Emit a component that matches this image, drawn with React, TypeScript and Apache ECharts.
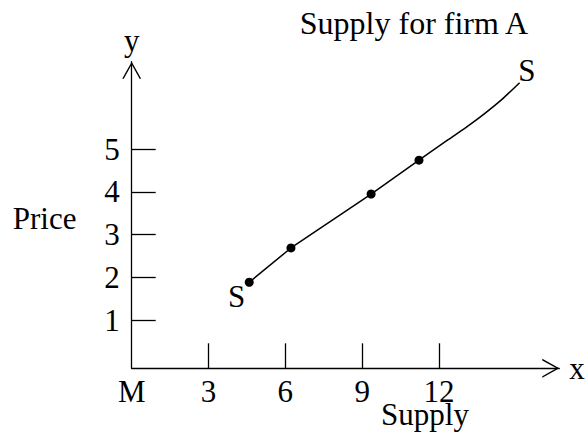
import React, { useEffect, useRef } from "react";
import * as echarts from "echarts";

const chartTitle = "Supply for firm A";
const xAxisName = "x";
const yAxisName = "y";
const priceLabel = "Price";
const supplyLabel = "Supply";
const curveLabel = "S";
const originLabel = "M";

const xTickValues = [3, 6, 9, 12];
const xLabelValues = [0, 3, 6, 9, 12];
const yTickValues = [1, 2, 3, 4, 5];

const dotQuantity = [4.59, 6.22, 9.35, 11.22];
const dotPrice = [1.89, 2.69, 3.95, 4.74];
const curveQuantity = [11.22, 12.36, 13.02, 13.68, 14.46, 15.15];
const curvePrice = [4.74, 5.22, 5.49, 5.78, 6.16, 6.55];

const xMin = 0;
const xMax = 16.7;
const yMin = -0.12;
const yMax = 7.04;

const FONT = "'Liberation Serif', 'Times New Roman', serif";
const FS = 31;
const ARROW = "path://M0,17L9.5,0L19,17L17.4,17L9.5,2.86L1.6,17Z";

export default function App() {
  const ref = useRef<HTMLDivElement>(null);
  useEffect(() => {
    if (!ref.current) return;
    const chart = echarts.init(ref.current, null, { renderer: "svg" });
    const text = { fontFamily: FONT, fontSize: FS, color: "#000" };
    const dots = dotQuantity.map((q, i) => {
      const item: any = { value: [q, dotPrice[i]] };
      if (i === 0) {
        item.label = { show: true, formatter: curveLabel, position: "inside", offset: [-12.6, 14], ...text };
      }
      return item;
    });
    const curve = curveQuantity.map((q, i) => {
      const item: any = { value: [q, curvePrice[i]] };
      if (i === curveQuantity.length - 1) {
        item.label = { show: true, formatter: curveLabel, position: "inside", offset: [7.2, -12.5], ...text };
      }
      return item;
    });
    const option: any = {
      animation: false,
      backgroundColor: "#fff",
      title: {
        text: chartTitle,
        left: 409,
        top: 2,
        textAlign: "center",
        textStyle: { ...text, fontSize: 32, fontWeight: "normal" },
      },
      grid: {
        left: 131.7,
        right: 25.7,
        top: 61.7,
        bottom: 67.7,
        containLabel: false,
        outerBoundsMode: "none",
      },
      xAxis: {
        type: "value",
        min: xMin,
        max: xMax,
        name: xAxisName,
        nameLocation: "end",
        nameGap: 10,
        nameTextStyle: { ...text, verticalAlign: "middle", padding: [0, 0, 14, 0] },
        axisLine: {
          show: true,
          onZero: false,
          symbol: ["none", ARROW],
          symbolSize: [19, 17],
          symbolOffset: [0, -8.5],
          lineStyle: { color: "#000", width: 1.3 },
        },
        axisTick: {
          show: true,
          inside: true,
          length: 25,
          customValues: xTickValues,
          lineStyle: { color: "#000", width: 1.3 },
        },
        axisLabel: {
          show: true,
          customValues: xLabelValues,
          showMinLabel: true,
          margin: 12,
          lineHeight: 22,
          formatter: (v: number) => (v === 0 ? originLabel : String(v)),
          ...text,
        },
        splitLine: { show: false },
      },
      yAxis: {
        type: "value",
        min: yMin,
        max: yMax,
        name: yAxisName,
        nameLocation: "end",
        nameGap: 6.6,
        nameTextStyle: { ...text, lineHeight: 30 },
        axisLine: {
          show: true,
          onZero: false,
          symbol: ["none", ARROW],
          symbolSize: [19, 17],
          symbolOffset: [0, -8.5],
          lineStyle: { color: "#000", width: 1.3 },
        },
        axisTick: {
          show: true,
          inside: true,
          length: 24,
          customValues: yTickValues,
          lineStyle: { color: "#000", width: 1.3 },
        },
        axisLabel: {
          show: true,
          customValues: yTickValues,
          margin: 12,
          ...text,
        },
        splitLine: { show: false },
      },
      graphic: [
        {
          type: "text",
          x: 76.5,
          y: 218,
          style: {
            text: priceLabel,
            fontFamily: FONT,
            fontSize: FS,
            fill: "#000",
            align: "right",
            verticalAlign: "middle",
            textAlign: "right",
            textVerticalAlign: "middle",
          },
        },
        {
          type: "text",
          x: 425,
          y: 414,
          style: {
            text: supplyLabel,
            fontFamily: FONT,
            fontSize: FS,
            lineHeight: 20,
            fill: "#000",
            align: "center",
            verticalAlign: "middle",
            textAlign: "center",
            textVerticalAlign: "middle",
          },
        },
      ],
      series: [
        {
          type: "line",
          data: dots,
          symbol: "circle",
          symbolSize: 9,
          showSymbol: true,
          itemStyle: { color: "#000" },
          lineStyle: { color: "#000", width: 1.5 },
          z: 3,
        },
        {
          type: "line",
          data: curve,
          smooth: 0.2,
          symbol: "circle",
          symbolSize: 0,
          showSymbol: true,
          itemStyle: { color: "#000" },
          lineStyle: { color: "#000", width: 1.5, join: "round" },
          z: 2,
        },
      ],
    };
    chart.setOption(option);
    return () => chart.dispose();
  }, []);
  return (
    <div
      ref={ref}
      style={{ position: "fixed", left: 0, top: 0, width: 585, height: 436, background: "#fff" }}
    />
  );
}
